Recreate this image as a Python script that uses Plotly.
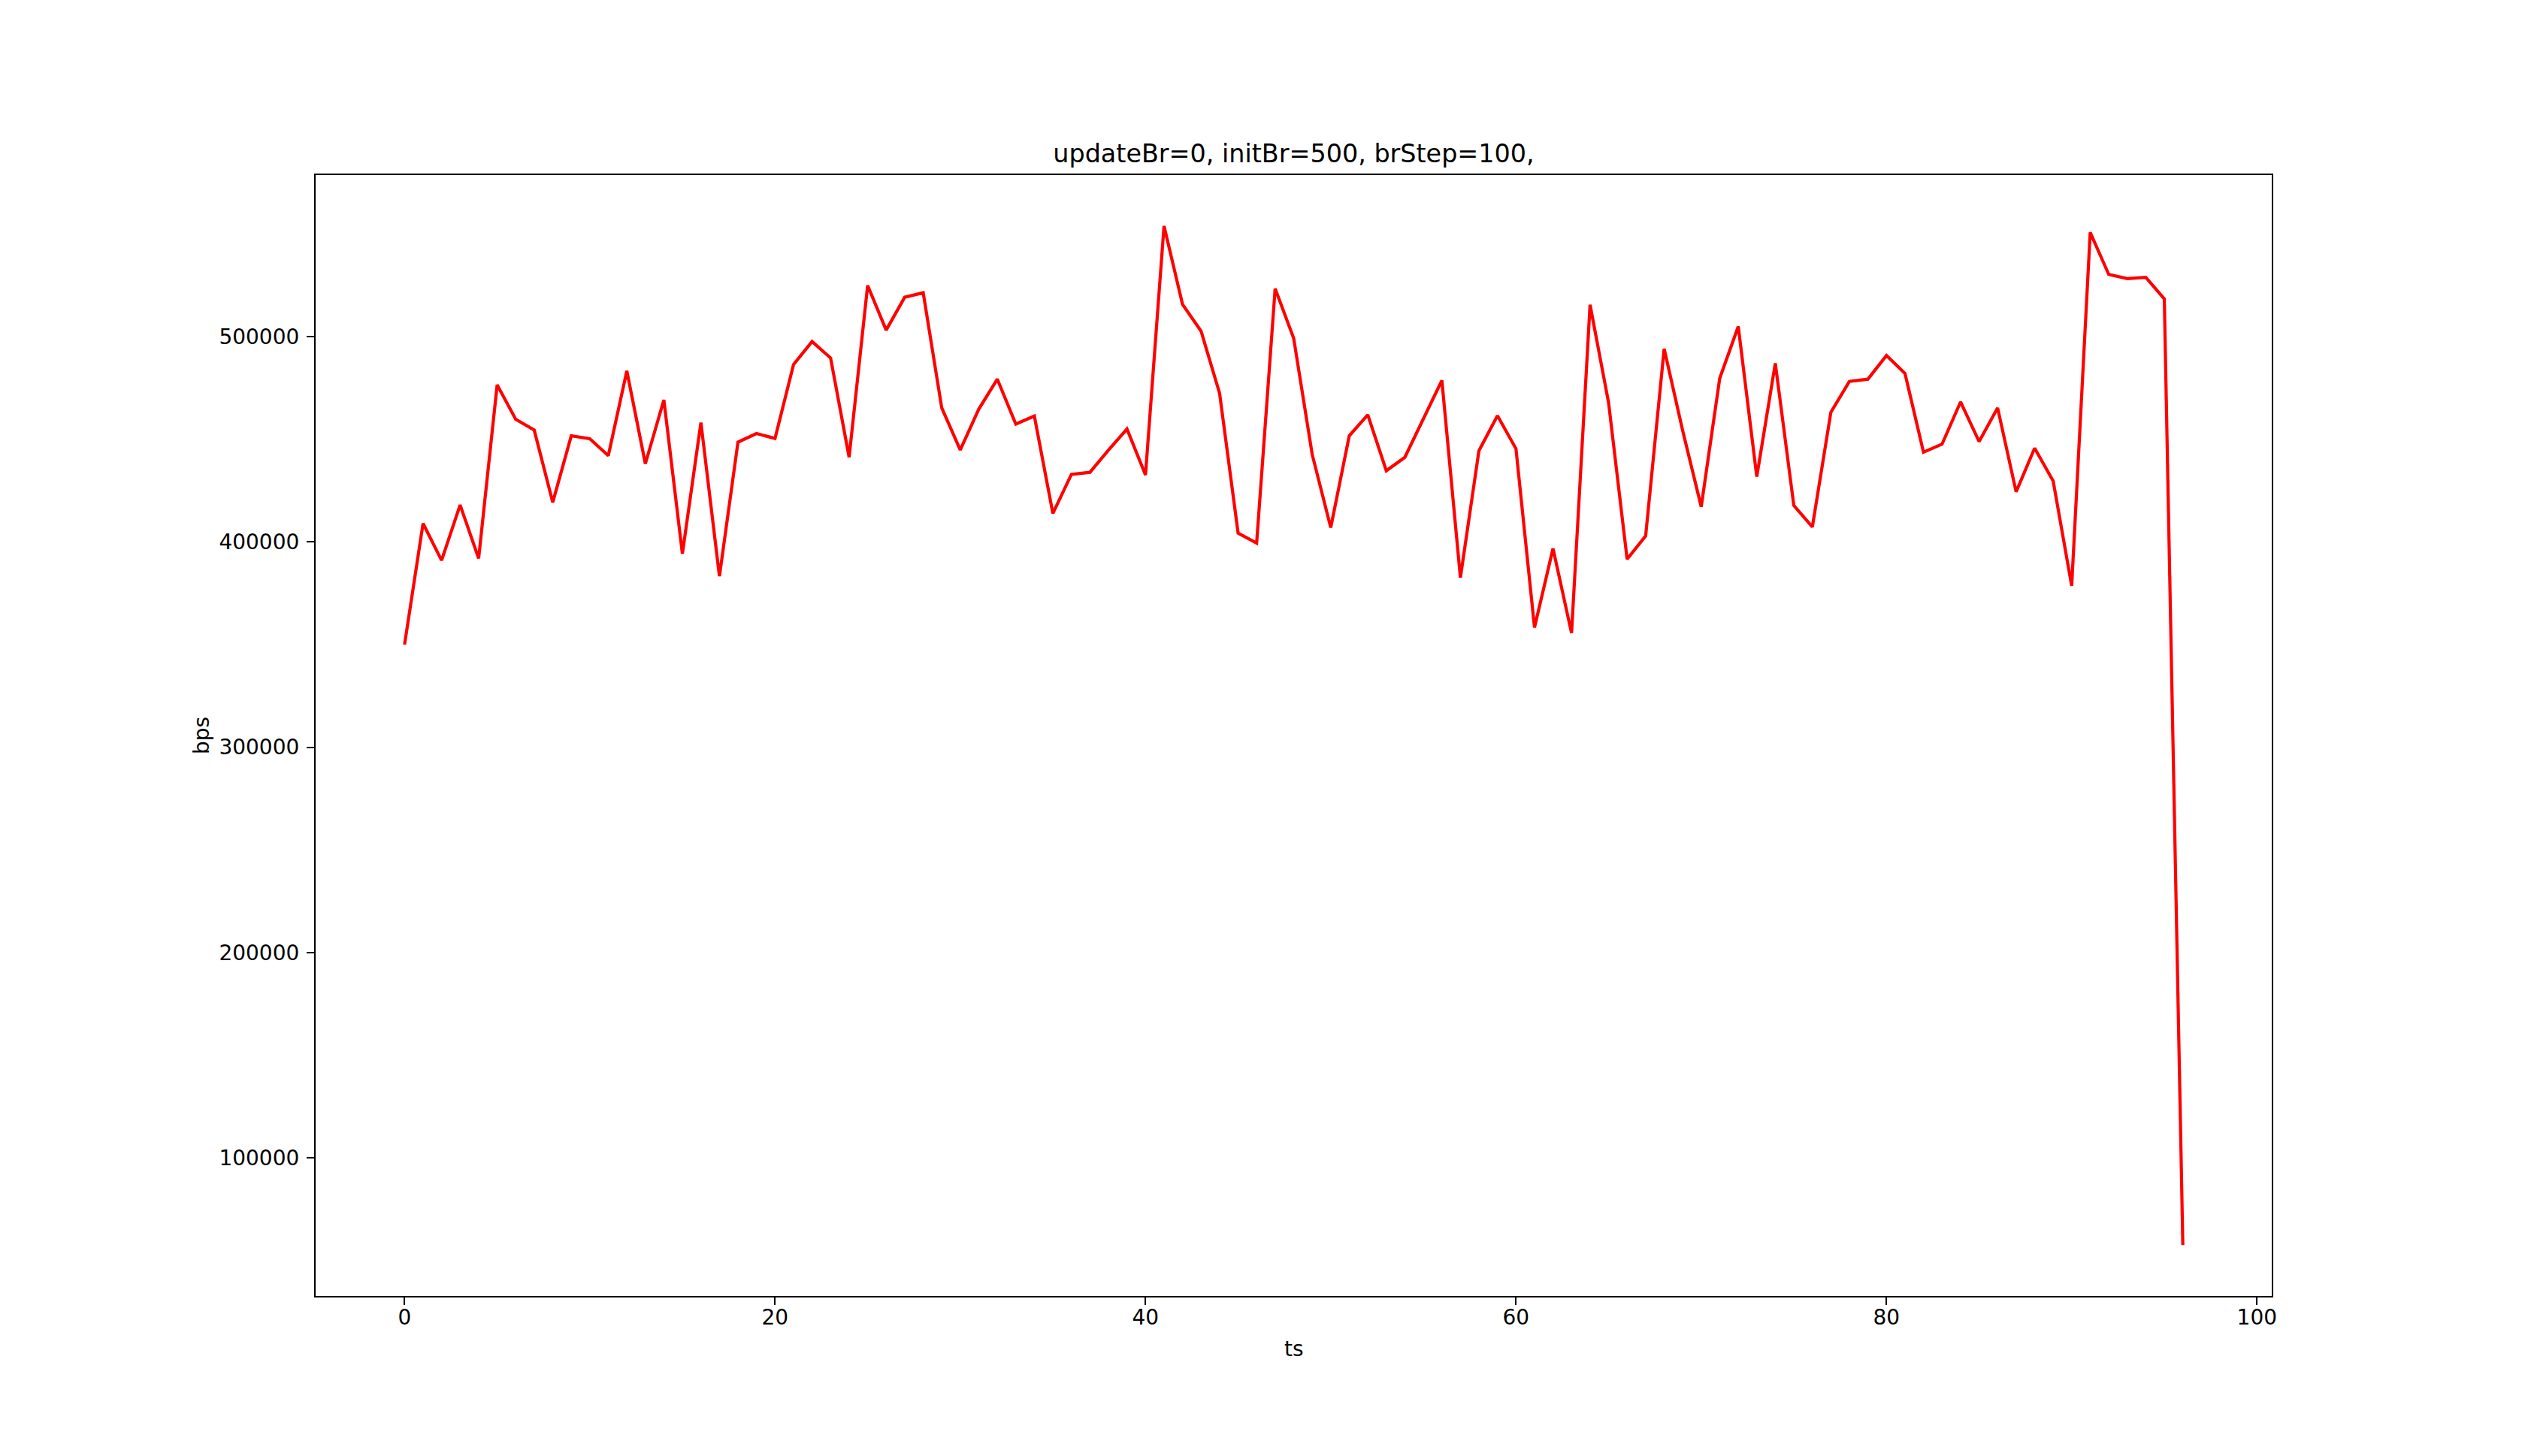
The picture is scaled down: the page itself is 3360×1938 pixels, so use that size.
import plotly.graph_objects as go

ts = list(range(97))
bps = [
    350000, 409000, 391000, 418000, 392000, 476500, 459800, 454500, 419300, 451700,
    450300, 442000, 483300, 438100, 469200, 394300, 458100, 383300, 448600, 452800,
    450400, 486400, 497600, 489600, 441300, 524900, 503200, 519200, 521400, 465300,
    444800, 464700, 479300, 457400, 461300, 413900, 432900, 433900, 444700, 455000,
    432600, 553900, 515700, 502700, 472400, 404300, 399400, 523400, 499200, 442600,
    407000, 451700, 461900, 434700, 441200, 459900, 478700, 382600, 444400, 461500,
    445400, 358300, 396800, 355600, 515500, 467800, 391600, 402900, 494100, 454200,
    417100, 479700, 505000, 431800, 487000, 417700, 407300, 463200, 478200, 479300,
    490800, 482100, 443700, 447600, 468200, 448900, 465300, 424400, 445700, 429700,
    378600, 550800, 530300, 528300, 528900, 518400, 57500,
]
title_text = "updateBr=0, initBr=500, brStep=100,"
x_label = "ts"
y_label = "bps"

# matplotlib-style 5% data margins
xmin, xmax = min(ts), max(ts)
ymin, ymax = min(bps), max(bps)
xpad = (xmax - xmin) * 0.05
ypad = (ymax - ymin) * 0.05

# page body has an 8px default margin; compensate so the figure fills 3360x1938
OFF = 8
W, H = 3360 - OFF, 1938 - OFF
FONT = "DejaVu Sans"
TICK_FS = 28
TITLE_FS = 33.4

fig = go.Figure()
fig.add_trace(go.Scatter(
    x=ts, y=bps, mode="lines",
    line=dict(color="#ff0000", width=4.2),
    showlegend=False, hoverinfo="skip",
))

axis_common = dict(
    showgrid=False, zeroline=False,
    showline=True, mirror=True, linecolor="black", linewidth=2.2,
    ticks="outside", ticklen=10, tickwidth=2.2, tickcolor="black",
    tickfont=dict(family=FONT, size=TICK_FS, color="black"),
    automargin=False,
)

fig.update_layout(
    width=W, height=H,
    paper_bgcolor="white", plot_bgcolor="white",
    margin=dict(l=420 - OFF, r=337, t=233 - OFF, b=213, pad=0),
    title=dict(
        text=title_text, x=0.5, xanchor="center",
        xref="paper", yref="paper", y=1, yanchor="bottom",
        pad=dict(b=17),
        font=dict(family=FONT, size=TITLE_FS, color="black"),
    ),
    xaxis=dict(
        range=[xmin - xpad, xmax + xpad],
        tick0=0, dtick=20,
        ticklabelstandoff=-8,
        **axis_common,
    ),
    yaxis=dict(
        range=[ymin - ypad, ymax + ypad],
        tick0=0, dtick=100000, tickformat="d",
        ticklabelstandoff=4,
        **axis_common,
    ),
    annotations=[
        dict(text=x_label, xref="paper", yref="paper", x=0.5, y=0,
             xanchor="center", yanchor="middle", yshift=-70, showarrow=False,
             font=dict(family=FONT, size=TICK_FS, color="black")),
        dict(text=y_label, xref="paper", yref="paper", x=0, y=0.5,
             xanchor="center", yanchor="middle", xshift=-152, textangle=-90,
             showarrow=False,
             font=dict(family=FONT, size=TICK_FS, color="black")),
    ],
)

fig.write_html("out.html")
